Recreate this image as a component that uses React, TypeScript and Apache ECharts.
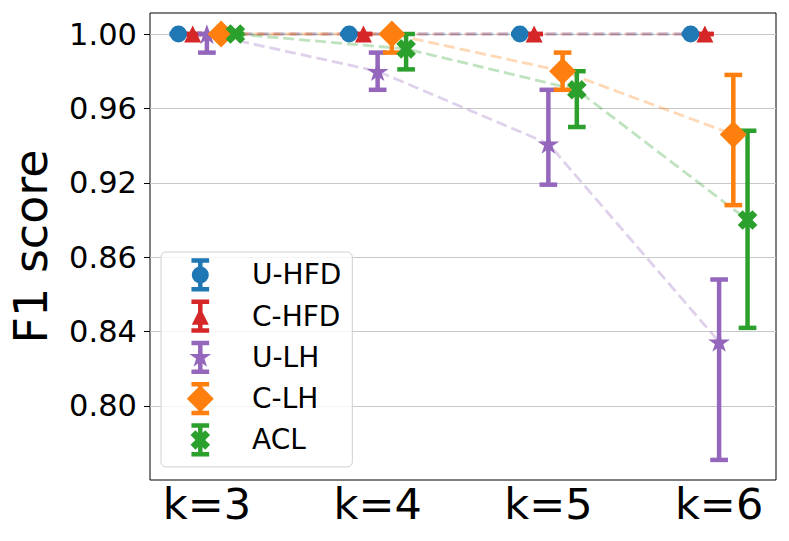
import React, { useEffect, useRef } from 'react';
import * as echarts from 'echarts';

// ---- data ----
const kValues = [3, 4, 5, 6];
const xTickLabels = ['k=3', 'k=4', 'k=5', 'k=6'];
const yTickValues = [0.8, 0.84, 0.88, 0.92, 0.96, 1.0];
const yTickLabels = ['0.80', '0.84', '0.86', '0.92', '0.96', '1.00'];

const seriesNames = ['U-HFD', 'C-HFD', 'U-LH', 'C-LH', 'ACL'];

const uhfdMean = [1.0, 1.0, 1.0, 1.0];
const uhfdLow = [1.0, 1.0, 1.0, 1.0];
const uhfdHigh = [1.0, 1.0, 1.0, 1.0];

const chfdMean = [1.0, 1.0, 1.0, 1.0];
const chfdLow = [1.0, 1.0, 1.0, 1.0];
const chfdHigh = [1.0, 1.0, 1.0, 1.0];

const ulhMean = [1.0, 0.98, 0.941, 0.8345];
const ulhLow = [0.99, 0.97, 0.919, 0.771];
const ulhHigh = [1.0, 0.99, 0.97, 0.868];

const clhMean = [1.0, 1.0, 0.98, 0.946];
const clhLow = [1.0, 0.99, 0.97, 0.908];
const clhHigh = [1.0, 1.0, 0.99, 0.978];

const aclMean = [1.0, 0.992, 0.97, 0.9];
const aclLow = [1.0, 0.981, 0.95, 0.842];
const aclHigh = [1.0, 1.0, 0.98, 0.948];

// ---- styling ----
const FONT = 'DejaVu Sans';
const colors = ['#1f77b4', '#d62728', '#9467bd', '#ff7f0e', '#2ca02c'];
const offsets = [-1 / 6, -1 / 12, 0, 1 / 12, 1 / 6];
const ERR_W = 4.5;
const CAP_HALF = 8.85;

type Pt = [number, number];
const poly = (pts: Pt[]) =>
  'M' + pts.map((p) => p[0].toFixed(2) + ' ' + p[1].toFixed(2)).join(' L') + ' Z';
const circlePath = (r: number) =>
  `M${-r} 0 A${r} ${r} 0 1 1 ${r} 0 A${r} ${r} 0 1 1 ${-r} 0 Z`;
const starPts = (R: number): Pt[] => {
  const pts: Pt[] = [];
  for (let i = 0; i < 10; i++) {
    const a = ((-90 + 36 * i) * Math.PI) / 180;
    const r = i % 2 === 0 ? R : R * 0.381966;
    pts.push([r * Math.cos(a), r * Math.sin(a)]);
  }
  return pts;
};
const xPts = (u: number): Pt[] =>
  ([[-1, -2], [0, -1], [1, -2], [2, -1], [1, 0], [2, 1], [1, 2], [0, 1], [-1, 2], [-2, 1], [-1, 0], [-2, -1]] as Pt[]).map(
    (p) => [p[0] * u, p[1] * u] as Pt
  );
const triPts = (s: number): Pt[] => [[0, -s / 2], [s / 2, s / 2], [-s / 2, s / 2]];
const diaPts = (h: number): Pt[] => [[0, -h], [h, 0], [0, h], [-h, 0]];

const markerPaths = [
  circlePath(8.5),
  poly(triPts(17)),
  poly(starPts(11.5)),
  poly(diaPts(13.5)),
  poly(xPts(4.9)),
];
const markerSizes: Array<[number, number]> = [
  [17, 17],
  [17, 17],
  [2 * 0.9511 * 11.5, 11.5 * 1.809],
  [27, 27],
  [19.6, 19.6],
];

const rect = (x0: number, y0: number, x1: number, y1: number) =>
  `M${x0} ${y0} L${x1} ${y0} L${x1} ${y1} L${x0} ${y1} Z`;
const LEG_CAP = 14.4;
const LEG_H = 2 * (LEG_CAP + ERR_W / 2);
const ICON_L = 30; // from icon box left edge to marker centre
const ICON_R = 46.7; // from marker centre to icon box right edge
// invisible, zero-area anchors that widen the icon's bounding box
const anchors = `M${-ICON_L} 0 L${-ICON_L} 0.001 L${-ICON_L + 0.001} 0 Z M${ICON_R} 0 L${ICON_R} 0.001 L${ICON_R - 0.001} 0 Z`;
const errIcon =
  rect(-CAP_HALF, -LEG_CAP - ERR_W / 2, CAP_HALF, -LEG_CAP + ERR_W / 2) +
  ' ' +
  rect(-ERR_W / 2, -LEG_CAP, ERR_W / 2, LEG_CAP) +
  ' ' +
  rect(-CAP_HALF, LEG_CAP - ERR_W / 2, CAP_HALF, LEG_CAP + ERR_W / 2);

const allMeans = [uhfdMean, chfdMean, ulhMean, clhMean, aclMean];
const allLows = [uhfdLow, chfdLow, ulhLow, clhLow, aclLow];
const allHighs = [uhfdHigh, chfdHigh, ulhHigh, clhHigh, aclHigh];

export default function App() {
  const ref = useRef<HTMLDivElement>(null);
  useEffect(() => {
    if (!ref.current) return;
    const chart = echarts.init(ref.current, undefined, { renderer: 'svg' });

    const series: any[] = [];
    // dashed connecting lines
    seriesNames.forEach((name, i) => {
      series.push({
        name: name + ' trend',
        type: 'line',
        z: 2,
        silent: true,
        symbol: 'none',
        showSymbol: false,
        data: kValues.map((k, j) => [k + offsets[i], allMeans[i][j]]),
        lineStyle: { color: colors[i], width: 2.8, type: [11, 5], opacity: 0.3 },
        itemStyle: { color: colors[i] },
      });
    });
    // error bars
    seriesNames.forEach((name, i) => {
      series.push({
        name: name + ' err',
        type: 'custom',
        z: 3,
        silent: true,
        encode: { x: 0, y: [1, 2] },
        data: kValues.map((k, j) => [k + offsets[i], allLows[i][j], allHighs[i][j]]),
        renderItem: (params: any, api: any) => {
          const x = api.value(0);
          const pLo = api.coord([x, api.value(1)]);
          const pHi = api.coord([x, api.value(2)]);
          const cx = pLo[0];
          const style = { stroke: colors[i], lineWidth: ERR_W, fill: 'none' };
          return {
            type: 'group',
            children: [
              { type: 'line', shape: { x1: cx, y1: pHi[1], x2: cx, y2: pLo[1] }, style },
              { type: 'line', shape: { x1: cx - CAP_HALF, y1: pHi[1], x2: cx + CAP_HALF, y2: pHi[1] }, style },
              { type: 'line', shape: { x1: cx - CAP_HALF, y1: pLo[1], x2: cx + CAP_HALF, y2: pLo[1] }, style },
            ],
          };
        },
      });
    });
    // markers
    seriesNames.forEach((name, i) => {
      series.push({
        name,
        type: 'scatter',
        z: 4,
        symbol: 'path://' + markerPaths[i],
        symbolSize: markerSizes[i],
        symbolKeepAspect: true,
        data: kValues.map((k, j) => [k + offsets[i], allMeans[i][j]]),
        itemStyle: { color: colors[i], opacity: 1 },
      });
    });

    const option: any = {
      animation: false,
      textStyle: { fontFamily: FONT },
      grid: {
        left: 147,
        top: 13,
        right: 13,
        bottom: 61,
        show: true,
        borderColor: '#000',
        borderWidth: 1,
      },
      xAxis: {
        type: 'value',
        min: 2.6667,
        max: 6.3333,
        axisLine: { show: false },
        axisTick: { show: false, customValues: kValues },
        splitLine: { show: false },
        axisLabel: {
          customValues: kValues,
          fontSize: 43,
          fontFamily: FONT,
          color: '#000',
          margin: 2,
          formatter: (v: number) => xTickLabels[kValues.indexOf(Math.round(v))] ?? '',
        },
      },
      yAxis: {
        type: 'value',
        min: 0.7602,
        max: 1.0113,
        name: 'F1 score',
        nameLocation: 'middle',
        nameGap: 96,
        nameTextStyle: { fontSize: 46, fontFamily: FONT, color: '#000' },
        axisLine: { show: false },
        axisTick: {
          show: true,
          length: 6,
          customValues: yTickValues,
          lineStyle: { color: '#000', width: 1 },
        },
        splitLine: { show: true, lineStyle: { color: '#c8c8c8', width: 1 } },
        axisLabel: {
          customValues: yTickValues,
          fontSize: 30.5,
          fontFamily: FONT,
          color: '#000',
          margin: 13,
          formatter: (v: number) => {
            const idx = yTickValues.findIndex((t) => Math.abs(t - v) < 1e-6);
            return idx >= 0 ? yTickLabels[idx] : '';
          },
        },
      },
      legend: {
        orient: 'vertical',
        left: 161,
        top: 252,
        z: 10,
        padding: [6.3, 11, 10.3, 9.3],
        itemWidth: ICON_L + ICON_R,
        itemHeight: LEG_H,
        itemGap: 41.25 - LEG_H,
        backgroundColor: 'rgba(255,255,255,0.8)',
        borderColor: '#d0d0d0',
        borderWidth: 1,
        borderRadius: 5,
        symbolKeepAspect: true,
        textStyle: { fontSize: 28, fontFamily: FONT, color: '#000' },
        data: seriesNames.map((name, i) => ({
          name,
          icon: 'path://' + anchors + ' ' + errIcon + ' ' + markerPaths[i],
        })),
      },
      series,
    };
    chart.setOption(option);
    return () => chart.dispose();
  }, []);

  return (
    <div
      ref={ref}
      style={{ position: 'fixed', left: 0, top: 0, width: 789, height: 541, background: '#fff' }}
    />
  );
}
